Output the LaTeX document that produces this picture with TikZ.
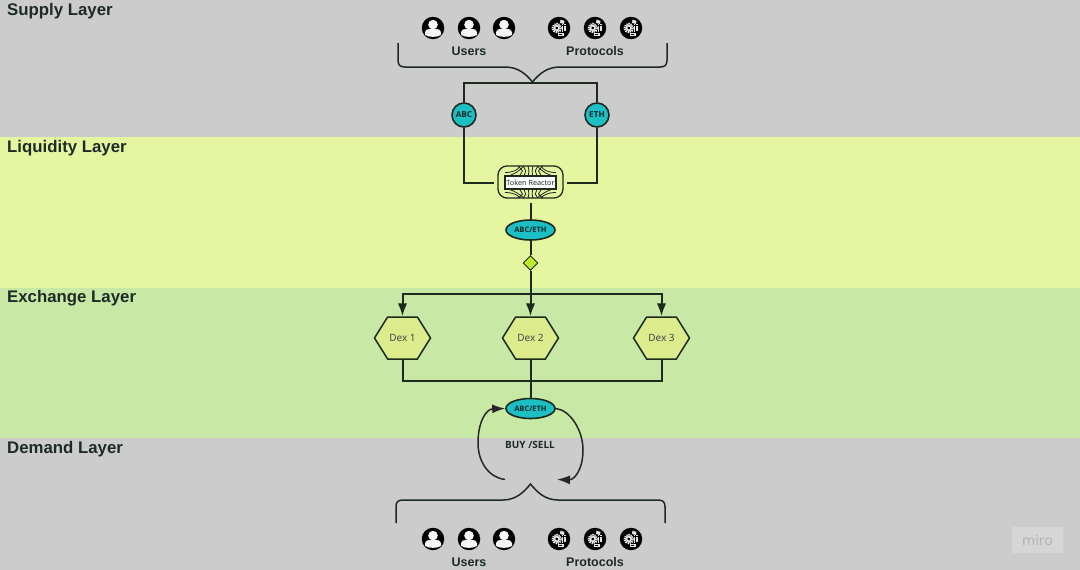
\documentclass[tikz,border=0pt]{standalone}
\usepackage{fontspec}
\setmainfont{Liberation Sans}
\newfontfamily\notof{Noto Sans}
\newfontfamily\opsf{Open Sans}
\usetikzlibrary{shapes.geometric,shapes.symbols,arrows.meta}
\definecolor{bandgray}{HTML}{CCCCCC}
\definecolor{bandyellow}{HTML}{E6F5A0}
\definecolor{bandgreen}{HTML}{C8E8A5}
\definecolor{tealfill}{HTML}{1CBFC4}
\definecolor{inktext}{HTML}{1E2A26}
\definecolor{lineink}{HTML}{1D2A1D}
\definecolor{hexfill}{HTML}{DCEB8C}
\definecolor{diamondfill}{HTML}{BDEB2E}
\tikzset{
  x=1pt,y=-1pt,
  band/.style={fill=#1,draw=none},
  layertitle/.style={anchor=west,font=\fontsize{16.8}{17}\selectfont\bfseries,text=inktext,inner sep=0pt},
  grouptitle/.style={font=\fontsize{12.5}{13}\selectfont\bfseries,text=inktext,inner sep=0pt},
  tokencircle/.style={circle,draw=lineink,line width=1.6pt,fill=tealfill,minimum size=24pt,inner sep=0pt,
     font=\opsf\bfseries\fontsize{8.2}{8}\selectfont,text=black!70!teal},
  pairoval/.style={ellipse,draw=lineink,line width=1.6pt,fill=tealfill,minimum width=49pt,minimum height=20pt,inner sep=0pt,
     font=\opsf\bfseries\fontsize{7.5}{7}\selectfont,text=black!70!teal},
  dexhex/.style={signal,signal to=west and east,signal pointer angle=116,draw=lineink,line width=1.5pt,fill=hexfill,
     minimum width=56pt,minimum height=42pt,inner sep=0pt,font=\notof\fontsize{10}{10}\selectfont,text=inktext!85},
  joint/.style={diamond,draw=lineink,line width=0.9pt,fill=diamondfill,minimum size=15pt,inner sep=0pt},
  conn/.style={draw=lineink,line width=2pt},
  arr/.style={conn,-{Latex[length=13pt,width=9.5pt]}},
  loopline/.style={draw=black!85,line width=1.5pt,-{Latex[length=13pt,width=9pt]}},
  iconbase/.style={circle,fill=black,minimum size=22.5pt,inner sep=0pt},
  userico/.pic={
    \fill[white!96!black] (0,-3.4) circle (4.8);
    \fill[white!96!black] (-8,7) -- (-8,4) .. controls (-8,1.5) and (-5,1) .. (-3,1) -- (3,1) .. controls (5,1) and (8,1.5) .. (8,4) -- (8,7) .. controls (4,9.5) and (-4,9.5) .. (-8,7) -- cycle;
  },
  protoico/.pic={
    \draw[white!90!black,line width=2pt,dash pattern=on 1.3pt off 0.8pt] (-2.2,0) circle (4.2);
    \draw[white!90!black,line width=1.6pt] (-2.2,0) circle (2.3);
    \fill[white!90!black] (1.5,-8.5) -- (5.5,-7) -- (5,-4) -- (1,-5) -- cycle;
    \draw[white!90!black,line width=1.6pt,dash pattern=on 1.4pt off 0.7pt] (3.4,-4) -- (3.4,3.5);
    \draw[white!90!black,line width=1.6pt,dash pattern=on 1.4pt off 0.7pt] (6,-4) -- (6,3);
    \fill[white!90!black] (-1.5,4.5) rectangle (4.5,8);
    \fill[black] (0,5.7) rectangle (3,6.8);
  },
}
\begin{document}
\begin{tikzpicture}
\useasboundingbox (0,0) rectangle (1080,570);
% bands
\fill[band=bandgray] (0,0) rectangle (1080,137);
\fill[band=bandyellow] (0,137) rectangle (1080,288);
\fill[band=bandgreen] (0,288) rectangle (1080,438);
\fill[band=bandgray] (0,438) rectangle (1080,570);
% titles
\node[layertitle] (t1) at (7,11.5) {Supply Layer};
\node[layertitle] (t2) at (7,148.5) {Liquidity Layer};
\node[layertitle] (t3) at (7,298.5) {Exchange Layer};
\node[layertitle] (t4) at (7,449.5) {Demand Layer};
% top icons
\node[iconbase] (u1) at (433,28) {}; \pic at (u1) {userico};
\node[iconbase] (u2) at (469,28) {}; \pic at (u2) {userico};
\node[iconbase] (u3) at (504,28) {}; \pic at (u3) {userico};
\node[iconbase] (p1) at (559,28) {}; \pic at (p1) {protoico};
\node[iconbase] (p2) at (595,28) {}; \pic at (p2) {protoico};
\node[iconbase] (p3) at (631,28) {}; \pic at (p3) {protoico};
\node[grouptitle] (lu1) at (469,51) {Users};
\node[grouptitle] (lp1) at (595,51) {Protocols};
% top brace
\draw[lineink,line width=1.5pt] (398,43) -- (398,60) .. controls (398,65) and (400,67) .. (405,67) -- (505,67) .. controls (518,67) and (526,74) .. (532.5,82) .. controls (539,74) and (547,67) .. (560,67) -- (660,67) .. controls (665,67) and (667,65) .. (667,60) -- (667,43);
% tokens
\node[tokencircle] (abc) at (464,115) {ABC};
\node[tokencircle] (eth) at (597,115) {ETH};
\coordinate (topL) at (464,83);
\coordinate (topR) at (597,83);
\draw[conn] (abc) -- (topL) -- (topR) -- (eth);
% reactor
\node[draw=lineink,line width=1.3pt,rounded corners=9pt,minimum width=65pt,minimum height=32pt,inner sep=0pt] (reactorbox) at (530.5,182) {};
\begin{scope}[lineink,line width=0.8pt]
 \foreach \i in {-1,-0.6,-0.2,0.2,0.6,1}{
   \draw ({530.5+\i*11},176) -- ({530.5+\i*8},171) -- ({530.5+\i*12},166);
   \draw ({530.5+\i*11},189) -- ({530.5+\i*8},194) -- ({530.5+\i*12},198);
 }
 \draw (508,176) .. controls (515,174) and (519,171) .. (524,166);
 \draw (553,176) .. controls (546,174) and (542,171) .. (537,166);
 \draw (508,189) .. controls (515,191) and (519,194) .. (524,198);
 \draw (553,189) .. controls (546,191) and (542,194) .. (537,198);
 \draw (505,172.5) .. controls (513,172.5) and (518,170) .. (520,166);
 \draw (556,172.5) .. controls (548,172.5) and (543,170) .. (541,166);
 \draw (505,192.5) .. controls (513,192.5) and (518,195) .. (520,198);
 \draw (556,192.5) .. controls (548,192.5) and (543,195) .. (541,198);
\end{scope}
\node[draw=lineink,line width=1.2pt,fill=white,minimum width=51pt,minimum height=13pt,inner sep=0pt,font=\notof\fontsize{7.2}{8}\selectfont,text=inktext] (reactor) at (530.5,182.5) {Token Reactor};
\coordinate (inL) at (494,183);
\coordinate (inR) at (567,183);
\coordinate (outB) at (530.5,203);
\draw[conn] (abc) |- (inL);
\draw[conn] (eth) |- (inR);
% pair + diamond
\node[pairoval] (pair1) at (530.5,230) {ABC/ETH};
\node[joint] (dia) at (530.5,263) {};
\draw[conn] (outB) -- (pair1);
\draw[conn] (pair1) -- (dia);
% dex
\node[dexhex] (d1) at (402.5,338) {Dex 1};
\node[dexhex] (d2) at (530.5,338) {Dex 2};
\node[dexhex] (d3) at (661.5,338) {Dex 3};
\coordinate (bus) at (530.5,294);
\coordinate (busL) at (402.5,294);
\coordinate (busR) at (661.5,294);
\draw[arr] (dia) -- (d2.north);
\draw[arr] (bus) -- (busL) -- (d1.north);
\draw[arr] (bus) -- (busR) -- (d3.north);
% lower pair
\node[pairoval] (pair2) at (530.5,408.5) {ABC/ETH};
\coordinate (lowL) at (402.5,381);
\coordinate (lowR) at (661.5,381);
\draw[conn] (d1.south) -- (lowL) -- (lowR) -- (d3.south);
\draw[conn] (d2.south) -- (pair2);
% loops
\coordinate (loopA) at (505,479.5);
\coordinate (loopB) at (557,479.5);
\draw[loopline] (loopA) .. controls (487,477) and (478,460) .. (478,443) .. controls (478,422) and (486,409) .. (pair2.west);
\draw[loopline] (pair2.east) .. controls (570,410) and (583,430) .. (583,450) .. controls (583,470) and (574,480) .. (loopB);
\node[font=\opsf\bfseries\fontsize{10}{10}\selectfont,text=inktext,inner sep=0pt] (buysell) at (530,445) {BUY /SELL};
% bottom brace
\draw[lineink,line width=1.5pt] (396,523) -- (396,507) .. controls (396,502) and (398,500) .. (403,500) -- (503,500) .. controls (516,500) and (524,492) .. (530.5,484) .. controls (537,492) and (545,500) .. (558,500) -- (658,500) .. controls (663,500) and (665,502) .. (665,507) -- (665,523);
% bottom icons
\node[iconbase] (u4) at (433,539) {}; \pic at (u4) {userico};
\node[iconbase] (u5) at (469,539) {}; \pic at (u5) {userico};
\node[iconbase] (u6) at (504,539) {}; \pic at (u6) {userico};
\node[iconbase] (p4) at (559,539) {}; \pic at (p4) {protoico};
\node[iconbase] (p5) at (595,539) {}; \pic at (p5) {protoico};
\node[iconbase] (p6) at (631,539) {}; \pic at (p6) {protoico};
\node[grouptitle] (lu2) at (469,562) {Users};
\node[grouptitle] (lp2) at (595,562) {Protocols};
% watermark
\node[fill=bandgray!80!white,minimum width=51pt,minimum height=26pt,inner sep=0pt,text=black!30,font=\notof\fontsize{14}{14}\selectfont] (miro) at (1037.5,540) {miro};
\end{tikzpicture}
\end{document}
